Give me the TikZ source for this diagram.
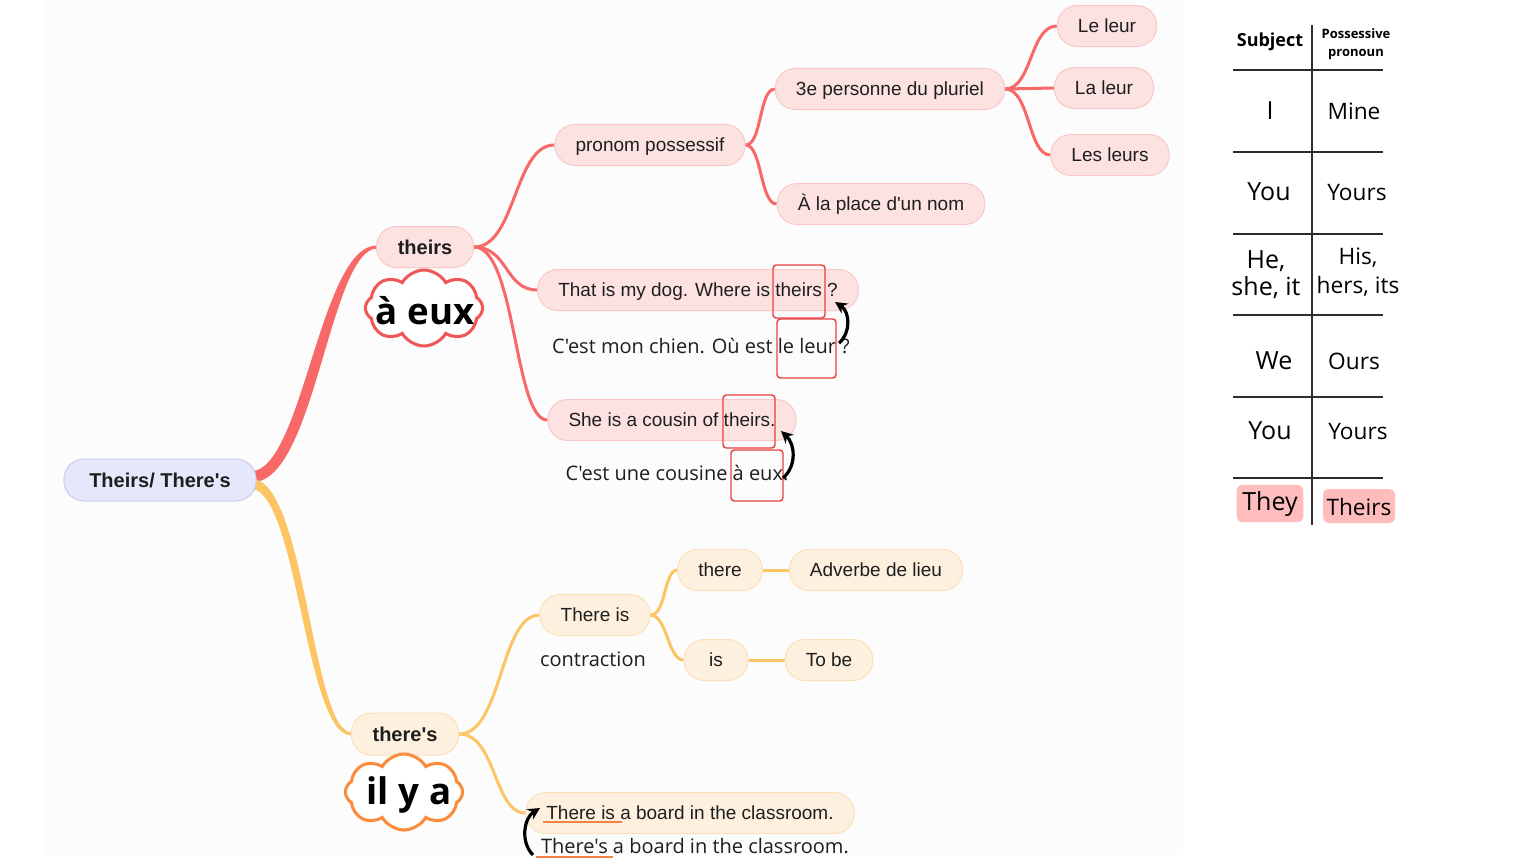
\documentclass[tikz,border=0pt]{standalone}
\usepackage{fontspec}
\setmainfont{Liberation Sans}[Ligatures=TeXOff]
\newfontfamily\cs{Open Sans}[Ligatures=TeXOff]
\usetikzlibrary{shapes.symbols,arrows.meta,calc,backgrounds}
\newcommand\myfs[2]{\fontsize{#1}{#2}\selectfont}
\definecolor{bgc}{RGB}{252,252,253}
\definecolor{txt}{RGB}{30,30,30}
\definecolor{rline}{RGB}{248,104,102}
\definecolor{yline}{RGB}{252,196,98}
\definecolor{rfill}{RGB}{253,226,226}
\definecolor{rdraw}{RGB}{250,200,200}
\definecolor{yfill}{RGB}{253,240,222}
\definecolor{ydraw}{RGB}{250,225,185}
\definecolor{rootf}{RGB}{229,232,251}
\definecolor{rootd}{RGB}{196,205,245}
\definecolor{cloudr}{RGB}{240,88,88}
\definecolor{cloudo}{RGB}{250,140,60}
\definecolor{hl}{RGB}{255,188,188}
\definecolor{uline}{RGB}{245,130,70}
\definecolor{boxred}{RGB}{232,64,63}
\definecolor{tabline}{RGB}{45,45,45}
\begin{document}
\begin{tikzpicture}[x=0.75pt,y=-0.75pt,
  pill/.style={rounded corners=15pt, minimum height=30.75pt, minimum width=48pt,
    inner xsep=15.5pt, inner ysep=0pt, line width=0.75pt, text=txt,
    font=\myfs{14.25pt}{17pt}, text height=10.7pt, text depth=0.5pt},
  rpill/.style={pill, fill=rfill, draw=rdraw},
  ypill/.style={pill, fill=yfill, draw=ydraw},
  bpill/.style={inner xsep=16pt, font=\bfseries\myfs{15pt}{18pt}, text height=11.2pt, text depth=0.5pt},
  rconn/.style={draw=rline, line width=2.25pt},
  yconn/.style={draw=yline, line width=2.25pt},
  plain/.style={text=txt, inner sep=0pt, font=\cs\myfs{15pt}{18pt}},
  redbox/.style={draw=boxred, line width=1.1pt, rounded corners=2.5pt, inner sep=0pt},
  bkarrow/.style={line width=2.4pt, -{Stealth[length=9pt,width=9pt]}},
  undl/.style={draw=uline, line width=1.3pt},
  tline/.style={draw=tabline, line width=1.5pt},
  tleft/.style={text=black, inner sep=0pt, align=center, font=\cs\myfs{18.75pt}{20pt}},
  tright/.style={text=black, inner sep=0pt, align=center, font=\cs\myfs{17pt}{21.5pt}},
  cloudbox/.style={cloud, cloud puffs=8, cloud puff arc=120, cloud ignores aspect,
    fill=white, line width=2.3pt, inner sep=0pt, minimum width=88pt, minimum height=57pt},
  bigword/.style={text=black, inner sep=0pt, font=\cs\bfseries\myfs{27.5pt}{30pt}}
]
\useasboundingbox (0,0) rectangle (1536,864);

% ---------- mind map nodes ----------
\node[rpill, fill=rootf, draw=rootd, bpill, inner xsep=19pt, minimum height=31.5pt] (root) at (160,480) {Theirs/ There's};
\node[rpill, bpill] (theirs) at (425,247) {theirs};
\node[ypill, bpill, minimum height=31.5pt] (there) at (405,734) {there's};

\node[rpill] (pp) at (650,145) {pronom possessif};
\node[rpill] (p3) at (890,89) {3e personne du pluriel};
\node[rpill] (place) at (881,204) {À la place d'un nom};
\node[rpill] (l1) at (1107,26) {Le leur};
\node[rpill] (l2) at (1104,88) {La leur};
\node[rpill] (l3) at (1110,155) {Les leurs};
\node[rpill] (dog) at (698,290) {That is my dog. Where is theirs ?};
\node[rpill] (cous) at (672,420) {She is a cousin of theirs.};
\node[plain] (chien) at (701,346) {C'est mon chien. Où est le leur ?};
\node[plain] (cousine) at (677,473) {C'est une cousine à eux.};

\node[ypill] (thereis) at (595,615) {There is};
\node[ypill] (therew) at (720,570) {there};
\node[ypill] (isw) at (716,660) {is};
\node[ypill] (adv) at (876,570) {Adverbe de lieu};
\node[ypill] (tobe) at (829,660) {To be};
\node[plain] (contr) at (593,659) {contraction};
\node[ypill] (board) at (690,813) {There is a board in the classroom.};
\node[plain] (boardc) at (695,846) {There's a board in the classroom.};

% ---------- clouds ----------
\node[cloudbox, draw=cloudr] (c1) at (424,308) {};
\node[bigword] (eux) at (425,311) {à eux};
\node[cloudbox, draw=cloudo] (c2) at (404,792) {};
\node[bigword] (ilya) at (409,795) {il y a};

% ---------- red boxes ----------
\node[redbox, minimum width=39pt, minimum height=39.75pt] (b1) at (799,291.5) {};
\node[redbox, minimum width=44.25pt, minimum height=44.25pt] (b2) at (806.5,348.5) {};
\node[redbox, minimum width=39pt, minimum height=39.75pt] (b3) at (749,421.5) {};
\node[redbox, minimum width=39pt, minimum height=38.25pt] (b4) at (757,475.5) {};

% ---------- arrows ----------
\coordinate (a1s) at (839,343);
\coordinate (a1e) at (835,302);
\coordinate (a2s) at (783,478);
\coordinate (a2e) at (781,431);
\coordinate (a3s) at (533,855);
\coordinate (a3e) at (540,808);
\draw[bkarrow] (a1s) .. controls (851,333) and (850,312) .. (a1e);
\draw[bkarrow] (a2s) .. controls (797,466) and (795,444) .. (a2e);
\draw[bkarrow] (a3s) .. controls (520,842) and (524,818) .. (a3e);

% ---------- underlines ----------
\coordinate (u1a) at (543,822); \coordinate (u1b) at (622,822);
\coordinate (u2a) at (536,857); \coordinate (u2b) at (613,857);
\draw[undl] (u1a) -- (u1b);
\draw[undl] (u2a) -- (u2b);

% ---------- connectors (behind) ----------
\begin{pgfonlayer}{background}
\fill[bgc] (45,0) rectangle (1183,855);
\fill[rline] ($(root.east)+(-3,-9)$) .. controls (303,464) and (321,245) .. ($(theirs.west)+(1,-1.5)$)
   -- ($(theirs.west)+(1,1.5)$) .. controls (330,250) and (315,480) .. ($(root.east)+(-3,2)$) -- cycle;
\fill[yline] ($(root.east)+(-3,-1)$) .. controls (306,486) and (312,732) .. ($(there.west)+(1,-1.5)$)
   -- ($(there.west)+(1,1.5)$) .. controls (306,737) and (298,500) .. ($(root.east)+(-3,9)$) -- cycle;
\draw[rconn] (theirs.east) .. controls (516,247) and (514,145) .. (pp.west);
\draw[rconn] (theirs.east) .. controls (508,247) and (505,290) .. (dog.west);
\draw[rconn] (theirs.east) .. controls (516,247) and (514,420) .. (cous.west);
\draw[rconn] (pp.east) .. controls (762,145) and (759,89) .. (p3.west);
\draw[rconn] (pp.east) .. controls (762,145) and (760,204) .. (place.west);
\draw[rconn] (p3.east) .. controls (1032,89) and (1030,26) .. (l1.west);
\draw[rconn] (p3.east) -- (l2.west);
\draw[rconn] (p3.east) .. controls (1030,89) and (1028,155) .. (l3.west);
\draw[yconn] (there.east) .. controls (502,734) and (500,615) .. (thereis.west);
\draw[yconn] (there.east) .. controls (496,734) and (494,813) .. (board.west);
\draw[yconn] (thereis.east) .. controls (666,615) and (664,570) .. (therew.west);
\draw[yconn] (thereis.east) .. controls (667,615) and (668,660) .. (isw.west);
\draw[yconn] (therew.east) -- (adv.west);
\draw[yconn] (isw.east) -- (tobe.west);
\end{pgfonlayer}

% ---------- table ----------
\draw[tline] (1312,25) -- (1312,525);
\foreach \yy in {70,152,234,315,397,478} \draw[tline] (1233,\yy) -- (1383,\yy);
\node[text=black, inner sep=0pt, font=\cs\bfseries\myfs{13.5pt}{16pt}] (hs) at (1270,42) {Subject};
\node[text=black, inner sep=0pt, align=center, font=\cs\bfseries\myfs{9.75pt}{13.5pt}] (hp) at (1356,44) {Possessive\\pronoun};
\node[tleft] (s1) at (1270,111) {I};
\node[tright] (p1) at (1354,111) {Mine};
\node[tleft] (s2) at (1269,192) {You};
\node[tright] (p2) at (1357,193) {Yours};
\node[tleft] (s3) at (1266,275) {He,\\she, it};
\node[tright] (p3t) at (1358,272) {His,\\hers, its};
\node[tleft] (s4) at (1274,361) {We};
\node[tright] (p4) at (1354,361) {Ours};
\node[tleft] (s5) at (1270,431) {You};
\node[tright] (p5) at (1358,432) {Yours};
\node[fill=hl, rounded corners=4pt, minimum width=50pt, minimum height=28pt, inner sep=0pt] (hl1) at (1270,503.5) {};
\node[fill=hl, rounded corners=4pt, minimum width=54pt, minimum height=25.5pt, inner sep=0pt] (hl2) at (1359,506) {};
\node[tleft] (s6) at (1270,504) {They};
\node[tright] (p6) at (1359,507) {Theirs};
\end{tikzpicture}
\end{document}
